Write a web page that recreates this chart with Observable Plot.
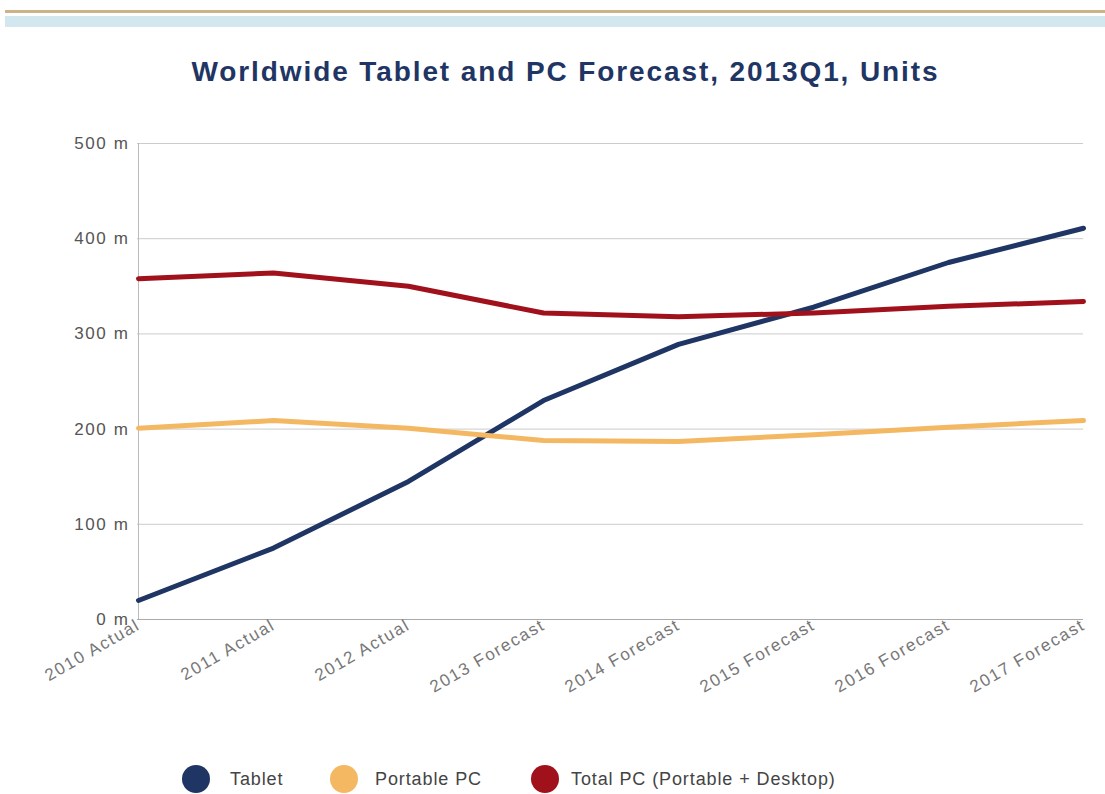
<!DOCTYPE html>
<html>
<head>
<meta charset="utf-8">
<script src="https://cdn.jsdelivr.net/npm/d3@7"></script>
<script src="https://cdn.jsdelivr.net/npm/@observablehq/plot@0.6"></script>
<style>
  html, body { margin: 0; padding: 0; background: #fff; }
  body { width: 1105px; height: 794px; position: relative; overflow: hidden; font-family: "Liberation Sans", Arial, sans-serif; }
  .bar1 { position: absolute; left: 5px; right: 0; top: 10px; height: 3px; background: #ccb48a; }
  .bar2 { position: absolute; left: 5px; right: 0; top: 16px; height: 11px; background: #d3e7ee; }
  h1 { position: absolute; left: 0; width: 1131px; top: 56px; margin: 0; text-align: center; font-size: 28px; letter-spacing: 1.9px; font-weight: bold; color: #1f3564; }
  #chart { position: absolute; left: 0; top: 110px; }
  #chart svg text { letter-spacing: 1.6px; }
  .legend { position: absolute; top: 765px; left: 0; width: 1105px; height: 28px; font-size: 18px; letter-spacing: 0.9px; color: #444; }
  .dot { position: absolute; top: 0; width: 28px; height: 28px; border-radius: 50%; }
  .lab { position: absolute; top: 0; line-height: 28px; }
</style>
</head>
<body>
<div class="bar1"></div>
<div class="bar2"></div>
<h1 id="title"></h1>
<div id="chart"></div>
<div class="legend" id="legend"></div>
<script>
const title = "Worldwide Tablet and PC Forecast, 2013Q1, Units";
const categories = ["2010 Actual", "2011 Actual", "2012 Actual", "2013 Forecast", "2014 Forecast", "2015 Forecast", "2016 Forecast", "2017 Forecast"];
const seriesNames = ["Tablet", "Portable PC", "Total PC (Portable + Desktop)"];
const seriesColors = ["#1f3564", "#f5b862", "#a0111b"];
const tablet = [20, 75, 145, 230, 289, 328, 375, 411];
const portablePC = [201, 209, 201, 188, 187, 194, 202, 209];
const totalPC = [358, 364, 350, 322, 318, 322, 329, 334];
const yTicks = [0, 100, 200, 300, 400, 500];
const legendDotX = [182, 330, 531];
const legendTextX = [230, 375, 571];

document.getElementById("title").textContent = title;

const values = [tablet, portablePC, totalPC];
const data = [];
seriesNames.forEach((s, i) => categories.forEach((c, j) => data.push({series: s, cat: c, value: values[i][j]})));

const plot = Plot.plot({
  width: 1105,
  height: 620,
  marginLeft: 137,
  marginRight: 22,
  marginTop: 33,
  marginBottom: 111,
  style: { fontFamily: "'Liberation Sans', Arial, sans-serif", fontSize: "17px", color: "#555", background: "#fff" },
  x: { type: "point", domain: categories, padding: 0, label: null },
  y: { domain: [0, 500], label: null },
  color: { domain: seriesNames, range: seriesColors },
  marks: [
    Plot.ruleY(yTicks.filter(d => d > 0), { stroke: "#cccccc", strokeWidth: 1 }),
    Plot.ruleX([categories[0]], { stroke: "#bbbbbb", strokeWidth: 1 }),
    Plot.ruleY([0], { stroke: "#aaaaaa", strokeWidth: 1 }),
    Plot.axisY({ ticks: yTicks, tickFormat: d => d + " m", tickSize: 0, tickPadding: 8, fill: "#555", fontSize: 17, label: null }),
    Plot.axisX({ tickSize: 0, tickRotate: -30, tickPadding: 4, fill: "#777", fontSize: 17, label: null }),
    Plot.line(data, { x: "cat", y: "value", z: "series", stroke: "series", strokeWidth: 5, strokeLinejoin: "round", strokeLinecap: "round" })
  ]
});
document.getElementById("chart").appendChild(plot);

const legend = document.getElementById("legend");
seriesNames.forEach((s, i) => {
  const dot = document.createElement("div");
  dot.className = "dot";
  dot.style.left = legendDotX[i] + "px";
  dot.style.background = seriesColors[i];
  const label = document.createElement("span");
  label.className = "lab";
  label.style.left = legendTextX[i] + "px";
  label.textContent = s;
  legend.appendChild(dot);
  legend.appendChild(label);
});
</script>
</body>
</html>
